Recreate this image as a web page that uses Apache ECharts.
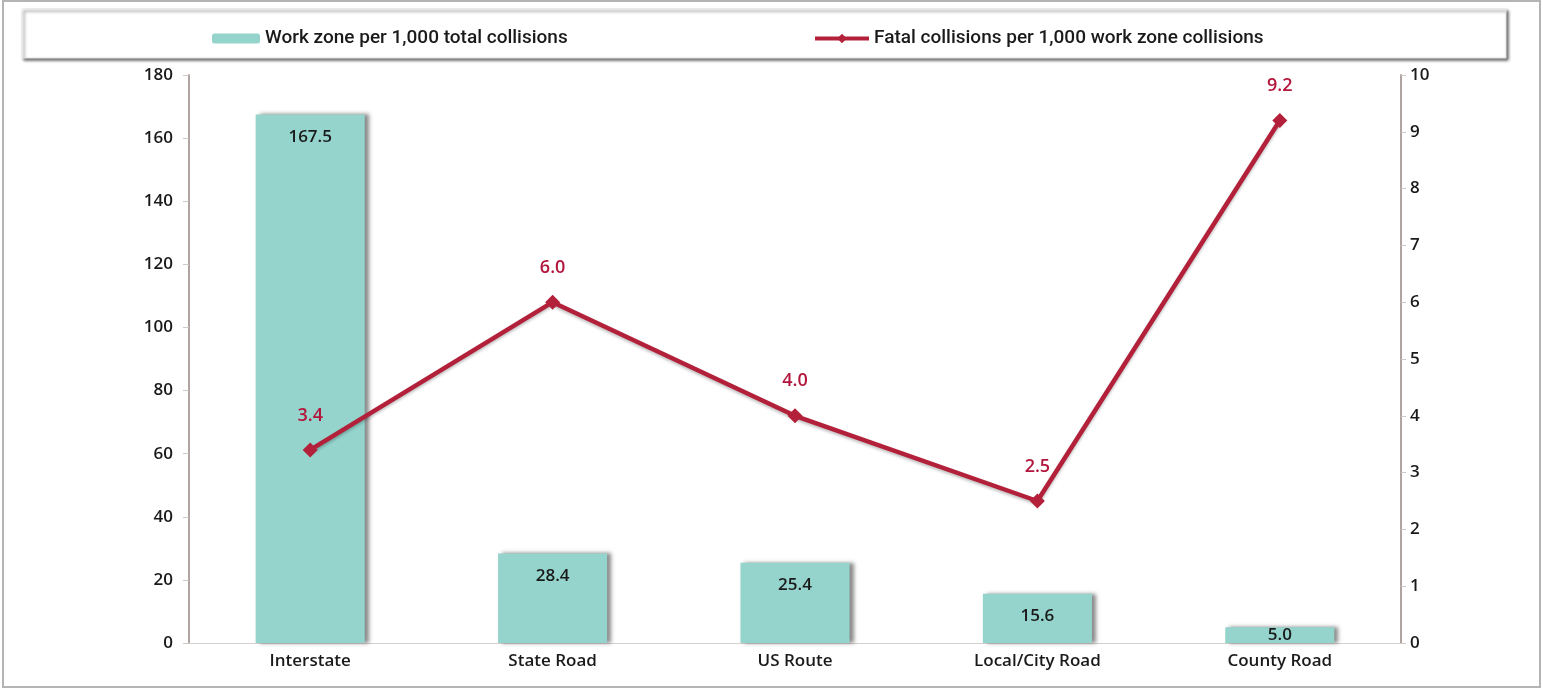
<!DOCTYPE html>
<html><head><meta charset="utf-8">
<script src="https://cdn.jsdelivr.net/npm/echarts@6/dist/echarts.min.js"></script>
<style>html,body{margin:0;padding:0;background:#fff}#c{width:1543px;height:688px}</style>
</head><body><div id="c"></div>
<script>
const categories = ['Interstate', 'State Road', 'US Route', 'Local/City Road', 'County Road'];
const workZoneRate = [167.5, 28.4, 25.4, 15.6, 5.0];
const fatalRate = [3.4, 6.0, 4.0, 2.5, 9.2];
const leftTicks = [0, 180, 20];
const rightTicks = [0, 10, 1];
const barName = 'Work zone per 1,000 total collisions';
const lineName = 'Fatal collisions per 1,000 work zone collisions';

const chart = echarts.init(document.getElementById('c'), null, {renderer: 'canvas'});
const txt = '#1a1a1a';
const legFont = 'Roboto';
const axFont = 'Open Sans';
const barData = workZoneRate.map(v => v < 10
  ? {value: v, label: {position: 'inside', distance: 0}}
  : {value: v});
chart.setOption({
  backgroundColor: '#ffffff',
  animation: false,
  graphic: [
    {type: 'rect', shape: {x: 3, y: 1, width: 1537, height: 686}, style: {fill: 'none', stroke: '#b4b4b4', lineWidth: 2}, z: -10},
    {type: 'rect', shape: {x: 22, y: 9, width: 1484, height: 49},
     style: {fill: '#ffffff', stroke: '#e6e6e6', lineWidth: 1, shadowColor: 'rgba(0,0,0,0.6)', shadowBlur: 3, shadowOffsetX: 2, shadowOffsetY: 2}, z: -5}
  ],
  legend: [
    {data: [barName], left: 207, top: 24, itemWidth: 48, itemHeight: 10, itemGap: 6,
     textStyle: {color: txt, fontSize: 19, fontFamily: legFont, fontWeight: 500}},
    {data: [lineName], left: 808, top: 24, itemWidth: 54, itemHeight: 12, itemGap: 16,
     lineStyle: {width: 4},
     textStyle: {color: txt, fontSize: 19, fontFamily: legFont, fontWeight: 500}}
  ],
  grid: {left: 189, right: 142, top: 75, bottom: 45},
  xAxis: {
    type: 'category', data: categories,
    axisLine: {lineStyle: {color: '#d6d0ce', width: 1}},
    axisTick: {show: false},
    axisLabel: {color: txt, fontSize: 17, fontFamily: axFont, fontWeight: 600, margin: 10}
  },
  yAxis: [
    {type: 'value', min: leftTicks[0], max: leftTicks[1], interval: leftTicks[2], position: 'left',
     axisLine: {show: true, lineStyle: {color: '#b0a4a0', width: 2}},
     axisTick: {show: true, length: 6, lineStyle: {color: '#d0c8c6'}},
     splitLine: {show: false},
     axisLabel: {color: txt, fontSize: 17, fontFamily: axFont, fontWeight: 600, margin: 16}},
    {type: 'value', min: rightTicks[0], max: rightTicks[1], interval: rightTicks[2], position: 'right',
     axisLine: {show: true, lineStyle: {color: '#b0a4a0', width: 2}},
     axisTick: {show: true, length: 5, lineStyle: {color: '#d0c8c6'}},
     splitLine: {show: false},
     axisLabel: {color: txt, fontSize: 17, fontFamily: axFont, fontWeight: 600, margin: 9}}
  ],
  series: [
    {name: barName, type: 'bar', data: barData, barWidth: '45%', yAxisIndex: 0,
     itemStyle: {color: '#94d4cc', shadowColor: 'rgba(60,60,60,0.6)', shadowBlur: 4, shadowOffsetX: 4, shadowOffsetY: 0},
     label: {show: true, position: 'insideTop', distance: 14, color: txt, fontSize: 17, fontFamily: axFont, fontWeight: 600,
             formatter: p => Number(p.value).toFixed(1)}},
    {name: lineName, type: 'line', data: fatalRate, yAxisIndex: 1,
     lineStyle: {color: '#b3203a', width: 4.5, shadowColor: 'rgba(0,0,0,0.25)', shadowBlur: 3, shadowOffsetY: 2},
     itemStyle: {color: '#b3203a'},
     symbol: 'diamond', symbolSize: 15,
     label: {show: true, position: 'top', distance: 18, color: '#b3163c', fontSize: 18, fontFamily: axFont, fontWeight: 600,
             formatter: p => p.value.toFixed(1)}}
  ]
});
</script></body></html>
